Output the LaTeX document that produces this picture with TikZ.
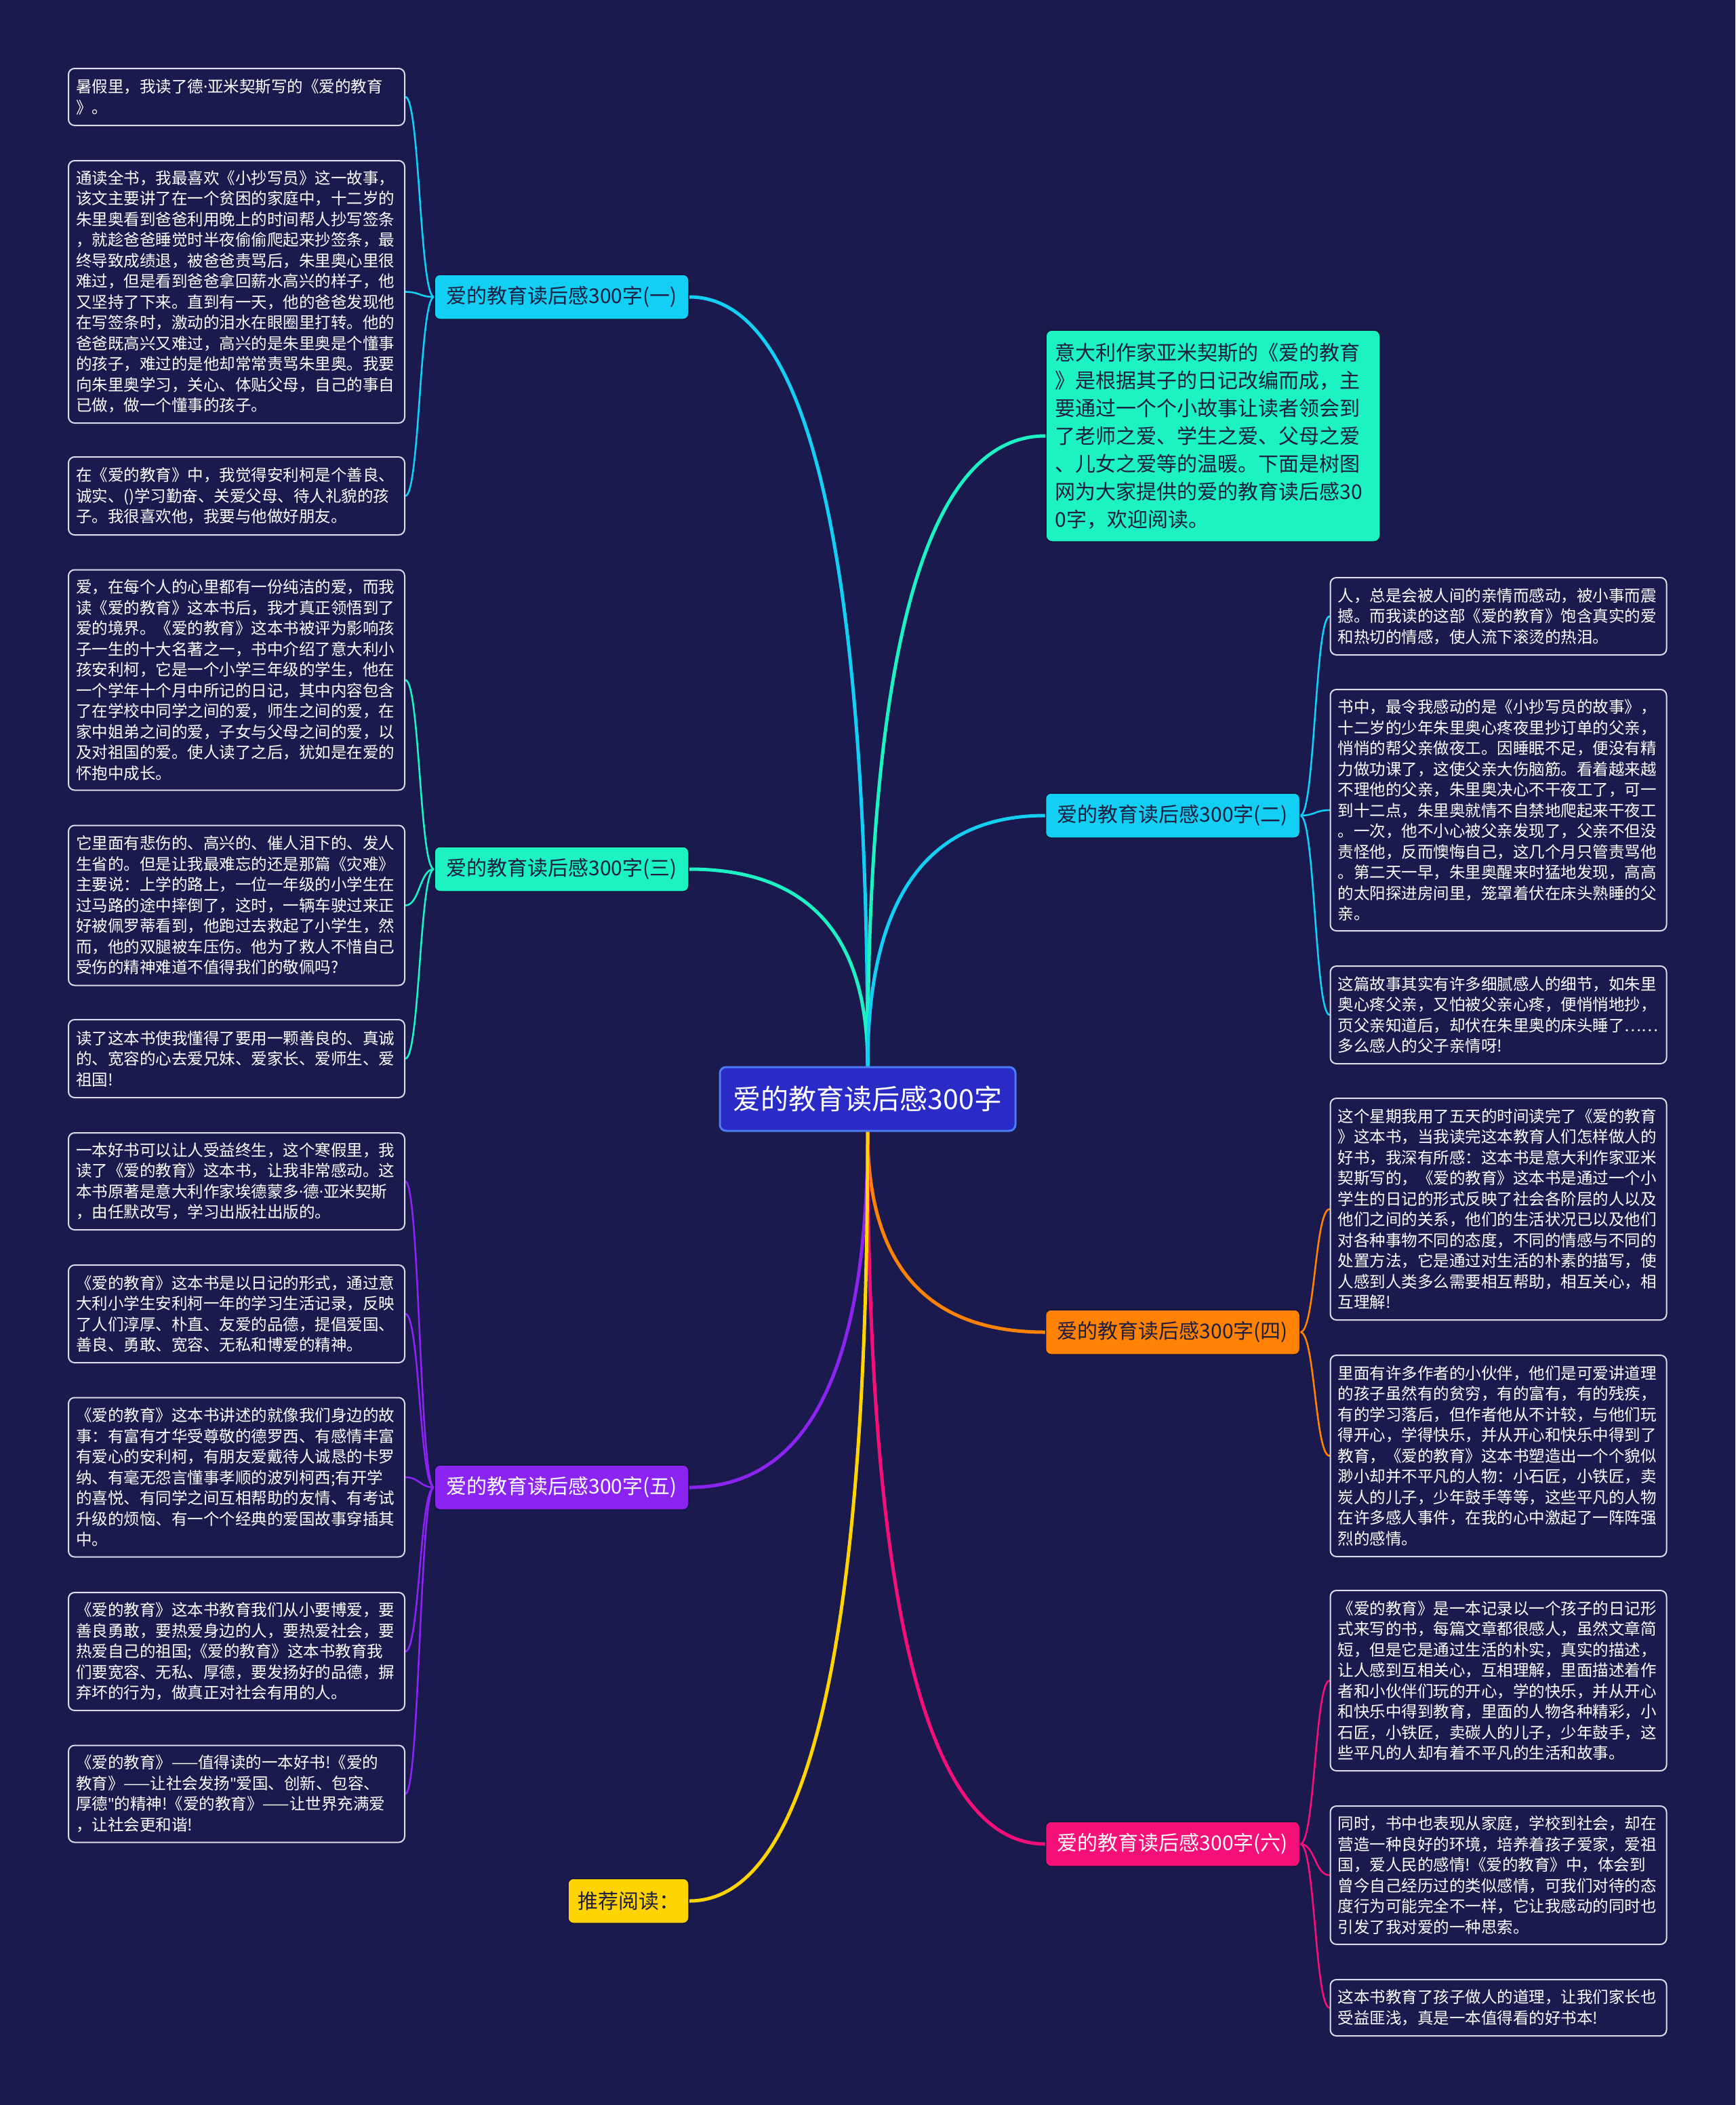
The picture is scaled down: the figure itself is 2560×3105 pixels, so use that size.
\documentclass[tikz,border=0pt]{standalone}
\usepackage{fontspec}
\setmainfont{Noto Sans CJK SC}
\newfontfamily\latinfont{Noto Sans}
\usetikzlibrary{calc}
\pgfdeclarelayer{bottomlayer}
\pgfdeclarelayer{bglayer}
\pgfsetlayers{bottomlayer,bglayer,main}
\definecolor{bgc}{HTML}{1A1A4E}
\definecolor{centerfill}{HTML}{2A2AC6}
\definecolor{centerline}{HTML}{4B7BF5}
\definecolor{cyanc}{HTML}{12CFF3}
\definecolor{aquac}{HTML}{1DF2C3}
\definecolor{purplec}{HTML}{8B24F0}
\definecolor{yellowc}{HTML}{FFD400}
\definecolor{orangec}{HTML}{FF8205}
\definecolor{pinkc}{HTML}{F50F78}
\definecolor{darktext}{HTML}{1E1E40}
\definecolor{darkline}{HTML}{15153A}
\definecolor{leafline}{HTML}{DCDCEA}
\newcommand{\md}{{\latinfont ·}}
\newcommand{\qt}{{\latinfont "}}
\tikzset{
  leafbox/.style={draw=leafline, line width=2pt, fill=bgc, rounded corners=9pt, text=white,
    font=\fontsize{23.5pt}{30.5pt}\selectfont, text width=474pt, inner xsep=11pt, inner ysep=10pt,
    align=left},
  branchbox/.style={draw=darkline, line width=1.5pt, rounded corners=8pt, minimum width=375pt,
    minimum height=66pt, font=\fontsize{30pt}{36pt}\selectfont, inner sep=0pt},
  mainline/.style={line width=5pt, line cap=round},
  subline/.style={line width=2.6pt, line cap=round},
}
\newcommand{\mainconn}[4]{% color, start, target, anchor
  \draw[mainline,#1] (#2) .. controls ($(#2)!0.6667!(#2 |- #3.#4)$) and ($(#3.#4)!0.6667!(#2 |- #3.#4)$) .. (#3.#4);}
\newcommand{\subconn}[5]{% color, branch, branch anchor, leaf, leaf anchor
  \draw[subline,#1] (#2.#3) .. controls ($(#2.#3)!0.5!(#2.#3 -| #4.#5)$) and ($(#4.#5)!0.5!(#4.#5 -| #2.#3)$) .. (#4.#5);}
\begin{document}
\begin{tikzpicture}[x=1pt,y=-1pt]
\begin{pgfonlayer}{bottomlayer}
\fill[bgc] (0,0) rectangle (2560,3105);
\end{pgfonlayer}
\useasboundingbox (0,0) rectangle (2560,3105);

% center
\node[draw=centerline, line width=3pt, fill=centerfill, rounded corners=9pt, minimum width=436pt,
  minimum height=94pt, text=white, font=\fontsize{41pt}{48pt}\selectfont, inner sep=0pt]
  (c) at (1280,1621) {爱的教育读后感300字};
\coordinate (ctop) at (c.north);
\coordinate (cbot) at (c.south);

% branches
\node[branchbox, fill=cyanc, text=darktext] (b1) at (828.5,438) {爱的教育读后感300字(一)};
\node[branchbox, fill=aquac, text=darktext] (b3) at (828.5,1282) {爱的教育读后感300字(三)};
\node[branchbox, fill=purplec, text=white] (b5) at (828.5,2194) {爱的教育读后感300字(五)};
\node[branchbox, fill=yellowc, text=darktext, minimum width=178pt] (rec) at (927,2804) {推荐阅读：};
\node[branchbox, fill=cyanc, text=darktext] (b2) at (1730,1203) {爱的教育读后感300字(二)};
\node[branchbox, fill=orangec, text=darktext] (b4) at (1730,1965) {爱的教育读后感300字(四)};
\node[branchbox, fill=pinkc, text=white] (b6) at (1730,2720) {爱的教育读后感300字(六)};

\node[draw=darkline, line width=1.5pt, fill=aquac, rounded corners=9pt, text=darktext,
  font=\fontsize{30pt}{41pt}\selectfont, text width=466pt, inner xsep=13.5pt, align=left,
  minimum height=312pt] (intro) at (1789.5,643) {意大利作家亚米契斯的《爱的教育\\》是根据其子的日记改编而成，主\\要通过一个个小故事让读者领会到\\了老师之爱、学生之爱、父母之爱\\、儿女之爱等的温暖。下面是树图\\网为大家提供的爱的教育读后感30\\0字，欢迎阅读。};

% left leaves
\node[leafbox, minimum height=84pt] (l1a) at (349,143) {暑假里，我读了德\md 亚米契斯写的《爱的教育\\》。};
\node[leafbox, minimum height=387pt] (l1b) at (349,430.5) {通读全书，我最喜欢《小抄写员》这一故事，\\该文主要讲了在一个贫困的家庭中，十二岁的\\朱里奥看到爸爸利用晚上的时间帮人抄写签条\\，就趁爸爸睡觉时半夜偷偷爬起来抄签条，最\\终导致成绩退，被爸爸责骂后，朱里奥心里很\\难过，但是看到爸爸拿回薪水高兴的样子，他\\又坚持了下来。直到有一天，他的爸爸发现他\\在写签条时，激动的泪水在眼圈里打转。他的\\爸爸既高兴又难过，高兴的是朱里奥是个懂事\\的孩子，难过的是他却常常责骂朱里奥。我要\\向朱里奥学习，关心、体贴父母，自己的事自\\已做，做一个懂事的孩子。};
\node[leafbox, minimum height=115pt] (l1c) at (349,731.5) {在《爱的教育》中，我觉得安利柯是个善良、\\诚实、()学习勤奋、关爱父母、待人礼貌的孩\\子。我很喜欢他，我要与他做好朋友。};

\node[leafbox, minimum height=325pt] (l3a) at (349,1003) {爱，在每个人的心里都有一份纯洁的爱，而我\\读《爱的教育》这本书后，我才真正领悟到了\\爱的境界。《爱的教育》这本书被评为影响孩\\子一生的十大名著之一，书中介绍了意大利小\\孩安利柯，它是一个小学三年级的学生，他在\\一个学年十个月中所记的日记，其中内容包含\\了在学校中同学之间的爱，师生之间的爱，在\\家中姐弟之间的爱，子女与父母之间的爱，以\\及对祖国的爱。使人读了之后，犹如是在爱的\\怀抱中成长。};
\node[leafbox, minimum height=236pt] (l3b) at (349,1335.5) {它里面有悲伤的、高兴的、催人泪下的、发人\\生省的。但是让我最难忘的还是那篇《灾难》\\主要说：上学的路上，一位一年级的小学生在\\过马路的途中摔倒了，这时，一辆车驶过来正\\好被佩罗蒂看到，他跑过去救起了小学生，然\\而，他的双腿被车压伤。他为了救人不惜自己\\受伤的精神难道不值得我们的敬佩吗?};
\node[leafbox, minimum height=115pt] (l3c) at (349,1561.5) {读了这本书使我懂得了要用一颗善良的、真诚\\的、宽容的心去爱兄妹、爱家长、爱师生、爱\\祖国!};

\node[leafbox, minimum height=143pt] (l5a) at (349,1742.5) {一本好书可以让人受益终生，这个寒假里，我\\读了《爱的教育》这本书，让我非常感动。这\\本书原著是意大利作家埃德蒙多\md 德\md 亚米契斯\\，由任默改写，学习出版社出版的。};
\node[leafbox, minimum height=144pt] (l5b) at (349,1938) {《爱的教育》这本书是以日记的形式，通过意\\大利小学生安利柯一年的学习生活记录，反映\\了人们淳厚、朴直、友爱的品德，提倡爱国、\\善良、勇敢、宽容、无私和博爱的精神。};
\node[leafbox, minimum height=235pt] (l5c) at (349,2179) {《爱的教育》这本书讲述的就像我们身边的故\\事：有富有才华受尊敬的德罗西、有感情丰富\\有爱心的安利柯，有朋友爱戴待人诚恳的卡罗\\纳、有毫无怨言懂事孝顺的波列柯西;有开学\\的喜悦、有同学之间互相帮助的友情、有考试\\升级的烦恼、有一个个经典的爱国故事穿插其\\中。};
\node[leafbox, minimum height=174pt] (l5d) at (349,2436) {《爱的教育》这本书教育我们从小要博爱，要\\善良勇敢，要热爱身边的人，要热爱社会，要\\热爱自己的祖国;《爱的教育》这本书教育我\\们要宽容、无私、厚德，要发扬好的品德，摒\\弃坏的行为，做真正对社会有用的人。};
\node[leafbox, minimum height=143pt] (l5e) at (349,2646) {《爱的教育》——值得读的一本好书!《爱的\\教育》——让社会发扬\qt 爱国、创新、包容、\\厚德\qt 的精神!《爱的教育》——让世界充满爱\\，让社会更和谐!};

% right leaves
\node[leafbox, minimum height=114pt] (r2a) at (2210.5,909) {人，总是会被人间的亲情而感动，被小事而震\\撼。而我读的这部《爱的教育》饱含真实的爱\\和热切的情感，使人流下滚烫的热泪。};
\node[leafbox, minimum height=356pt] (r2b) at (2210.5,1195) {书中，最令我感动的是《小抄写员的故事》，\\十二岁的少年朱里奥心疼夜里抄订单的父亲，\\悄悄的帮父亲做夜工。因睡眠不足，便没有精\\力做功课了，这使父亲大伤脑筋。看着越来越\\不理他的父亲，朱里奥决心不干夜工了，可一\\到十二点，朱里奥就情不自禁地爬起来干夜工\\。一次，他不小心被父亲发现了，父亲不但没\\责怪他，反而懊悔自己，这几个月只管责骂他\\。第二天一早，朱里奥醒来时猛地发现，高高\\的太阳探进房间里，笼罩着伏在床头熟睡的父\\亲。};
\node[leafbox, minimum height=144pt] (r2c) at (2210.5,1497) {这篇故事其实有许多细腻感人的细节，如朱里\\奥心疼父亲，又怕被父亲心疼，便悄悄地抄，\\页父亲知道后，却伏在朱里奥的床头睡了……\\多么感人的父子亲情呀!};

\node[leafbox, minimum height=327pt] (r4a) at (2210.5,1783.5) {这个星期我用了五天的时间读完了《爱的教育\\》这本书，当我读完这本教育人们怎样做人的\\好书，我深有所感：这本书是意大利作家亚米\\契斯写的，《爱的教育》这本书是通过一个小\\学生的日记的形式反映了社会各阶层的人以及\\他们之间的关系，他们的生活状况已以及他们\\对各种事物不同的态度，不同的情感与不同的\\处置方法，它是通过对生活的朴素的描写，使\\人感到人类多么需要相互帮助，相互关心，相\\互理解!};
\node[leafbox, minimum height=297pt] (r4b) at (2210.5,2147.5) {里面有许多作者的小伙伴，他们是可爱讲道理\\的孩子虽然有的贫穷，有的富有，有的残疾，\\有的学习落后，但作者他从不计较，与他们玩\\得开心，学得快乐，并从开心和快乐中得到了\\教育，《爱的教育》这本书塑造出一个个貌似\\渺小却并不平凡的人物：小石匠，小铁匠，卖\\炭人的儿子，少年鼓手等等，这些平凡的人物\\在许多感人事件，在我的心中激起了一阵阵强\\烈的感情。};

\node[leafbox, minimum height=266pt] (r6a) at (2210.5,2479) {《爱的教育》是一本记录以一个孩子的日记形\\式来写的书，每篇文章都很感人，虽然文章简\\短，但是它是通过生活的朴实，真实的描述，\\让人感到互相关心，互相理解，里面描述着作\\者和小伙伴们玩的开心，学的快乐，并从开心\\和快乐中得到教育，里面的人物各种精彩，小\\石匠，小铁匠，卖碳人的儿子，少年鼓手，这\\些平凡的人却有着不平凡的生活和故事。};
\node[leafbox, minimum height=204pt] (r6b) at (2210.5,2766) {同时，书中也表现从家庭，学校到社会，却在\\营造一种良好的环境，培养着孩子爱家，爱祖\\国，爱人民的感情!《爱的教育》中，体会到\\曾今自己经历过的类似感情，可我们对待的态\\度行为可能完全不一样，它让我感动的同时也\\引发了我对爱的一种思索。};
\node[leafbox, minimum height=83pt] (r6c) at (2210.5,2961.5) {这本书教育了孩子做人的道理，让我们家长也\\受益匪浅，真是一本值得看的好书本!};

% connectors
\begin{pgfonlayer}{bglayer}
\mainconn{cyanc}{ctop}{b1}{east}
\mainconn{aquac}{ctop}{b3}{east}
\mainconn{aquac}{ctop}{intro}{west}
\mainconn{cyanc}{ctop}{b2}{west}
\mainconn{orangec}{cbot}{b4}{west}
\mainconn{purplec}{cbot}{b5}{east}
\mainconn{pinkc}{cbot}{b6}{west}
\mainconn{yellowc}{cbot}{rec}{east}

\subconn{cyanc}{b1}{west}{l1a}{east}
\subconn{cyanc}{b1}{west}{l1b}{east}
\subconn{cyanc}{b1}{west}{l1c}{east}
\subconn{aquac}{b3}{west}{l3a}{east}
\subconn{aquac}{b3}{west}{l3b}{east}
\subconn{aquac}{b3}{west}{l3c}{east}
\subconn{purplec}{b5}{west}{l5a}{east}
\subconn{purplec}{b5}{west}{l5b}{east}
\subconn{purplec}{b5}{west}{l5c}{east}
\subconn{purplec}{b5}{west}{l5d}{east}
\subconn{purplec}{b5}{west}{l5e}{east}
\subconn{cyanc}{b2}{east}{r2a}{west}
\subconn{cyanc}{b2}{east}{r2b}{west}
\subconn{cyanc}{b2}{east}{r2c}{west}
\subconn{orangec}{b4}{east}{r4a}{west}
\subconn{orangec}{b4}{east}{r4b}{west}
\subconn{pinkc}{b6}{east}{r6a}{west}
\subconn{pinkc}{b6}{east}{r6b}{west}
\subconn{pinkc}{b6}{east}{r6c}{west}
\end{pgfonlayer}
\end{tikzpicture}
\end{document}
